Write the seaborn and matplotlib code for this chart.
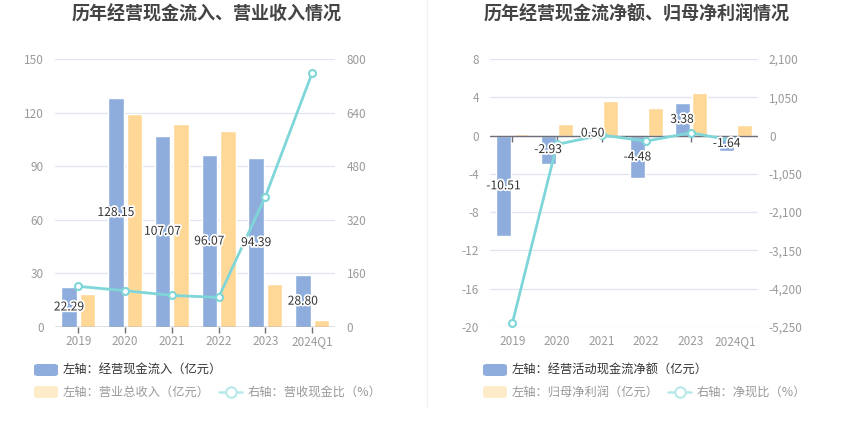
import numpy as np
import pandas as pd
import seaborn as sns
import matplotlib.pyplot as plt
from matplotlib.lines import Line2D
from matplotlib.patches import FancyBboxPatch
import matplotlib.patheffects as pe

years = ['2019', '2020', '2021', '2022', '2023', '2024Q1']

# left chart
cash_in = [22.29, 128.15, 107.07, 96.07, 94.39, 28.80]
revenue = [18.4, 119.1, 113.4, 109.5, 24.2, 3.8]
cash_ratio = [121, 108, 94, 88, 389, 758]

# right chart
net_cash = [-10.51, -2.93, 0.50, -4.48, 3.38, -1.64]
net_profit = [0.204, 1.18, 3.66, 2.92, 4.47, 1.07]
net_ratio = [-5150, -245, 14, -153, 76, -153]

BLUE = '#8eaddc'
ORANGE = '#ffd897'
TEAL = '#7fd6d8'
GRID = '#e0e6f1'
TICK = '#9a9a9a'
AXIS = '#6e7079'

sns.set_theme(style='white')
plt.rcParams['font.family'] = ['Noto Sans CJK SC', 'DejaVu Sans']

fig = plt.figure(figsize=(8.5, 4.37), dpi=100)


def fmt_comma(v):
    return f'{int(v):,}'


def panel(rect, bars_a, bars_b, line, ylim, yticks, y2lim, y2ticks, comma):
    ax = fig.add_axes(rect)
    df = pd.DataFrame({
        'year': years * 2,
        'val': bars_a + bars_b,
        's': ['a'] * 6 + ['b'] * 6,
    })
    sns.barplot(data=df, x='year', y='val', hue='s', palette=[BLUE, ORANGE],
                saturation=1, width=0.79, gap=0.15, ax=ax, legend=False,
                zorder=2)
    ax.set_ylim(*ylim)
    ax.set_xlim(-0.5, 5.5)
    ax.set_yticks(yticks)
    ax.set_yticklabels([str(t) for t in yticks])
    ax.grid(axis='y', color=GRID, lw=0.9, zorder=0)
    ax.set_axisbelow(True)
    for s in ['top', 'right', 'left', 'bottom']:
        ax.spines[s].set_visible(False)
    ax.set_xlabel('')
    ax.set_ylabel('')
    ax.tick_params(axis='y', length=0, colors=TICK, labelsize=8.5, pad=8)
    ax.tick_params(axis='x', length=0, colors=TICK, labelsize=8.5, pad=6)
    ax.axhline(0, color=AXIS, lw=1, zorder=3)
    ax.plot(range(6), [0] * 6, ls='none', marker=3, ms=4, mew=1, color=AXIS,
            zorder=3, clip_on=False)

    ax2 = ax.twinx()
    sns.lineplot(x=np.arange(6), y=line, ax=ax2, color=TEAL, lw=2,
                 marker='o', markersize=5, markerfacecolor='white',
                 markeredgecolor=TEAL, markeredgewidth=1.5, zorder=4)
    ax2.set_ylim(*y2lim)
    ax2.set_yticks(y2ticks)
    ax2.set_yticklabels([fmt_comma(t) if comma else str(t) for t in y2ticks])
    ax2.tick_params(axis='y', length=0, colors=TICK, labelsize=8.5, pad=8)
    for s in ['top', 'right', 'left', 'bottom']:
        ax2.spines[s].set_visible(False)
    ax2.set_ylabel('')
    ax2.grid(False)

    for i, v in enumerate(bars_a):
        ax2.text(i - 0.2, v / 2, f'{v:.2f}', transform=ax.transData,
                 ha='center', va='center', fontsize=8.7, color='#333333',
                 zorder=6,
                 path_effects=[pe.withStroke(linewidth=2.5, foreground='white')])
    return ax


panel([0.0647, 0.252, 0.33, 0.613], cash_in, revenue, cash_ratio,
      (0, 150), [0, 30, 60, 90, 120, 150], (0, 800), [0, 160, 320, 480, 640, 800],
      False)
panel([0.5765, 0.252, 0.315, 0.613], net_cash, net_profit, net_ratio,
      (-20, 8), [-20, -16, -12, -8, -4, 0, 4, 8], (-5250, 2100),
      [-5250, -4200, -3150, -2100, -1050, 0, 1050, 2100], True)

fig.text(207 / 850, 1 - 14 / 437, '历年经营现金流入、营业收入情况', ha='center',
         va='center', fontsize=13, fontweight='bold', color='#444444')
fig.text(637 / 850, 1 - 14 / 437, '历年经营现金流净额、归母净利润情况', ha='center',
         va='center', fontsize=13, fontweight='bold', color='#444444')

fig.add_artist(Line2D([427 / 850, 427 / 850], [1, 1 - 407 / 437],
                      color='#f0f0f0', lw=1))


def legend_item(x, y, kind, color, text, tcolor):
    w, h = 24 / 850, 12 / 437
    if kind == 'box':
        fig.add_artist(FancyBboxPatch((x / 850, 1 - y / 437 - h / 2), w, h,
                                      boxstyle='round,pad=0,rounding_size=0.005',
                                      transform=fig.transFigure, fc=color,
                                      ec='none'))
        tx = x + 29
    else:
        fig.add_artist(Line2D([x / 850, (x + 23) / 850], [1 - y / 437] * 2,
                              color=color, lw=1.8))
        fig.add_artist(Line2D([(x + 11.5) / 850], [1 - y / 437], marker='o',
                              ms=7.5, mfc='white', mec=color, mew=1.5))
        tx = x + 29
    fig.text(tx / 850, 1 - y / 437, text, ha='left', va='center',
             fontsize=8.8, color=tcolor)


legend_item(34, 370, 'box', BLUE, '左轴：经营现金流入（亿元）', '#333333')
legend_item(34, 392, 'box', '#fdebca', '左轴：营业总收入（亿元）', '#999999')
legend_item(219, 392, 'line', '#b7e8ea', '右轴：营收现金比（%）', '#999999')

legend_item(483, 370, 'box', BLUE, '左轴：经营活动现金流净额（亿元）', '#333333')
legend_item(483, 392, 'box', '#fdebca', '左轴：归母净利润（亿元）', '#999999')
legend_item(668, 392, 'line', '#b7e8ea', '右轴：净现比（%）', '#999999')

fig.savefig('out.png', dpi=100)
